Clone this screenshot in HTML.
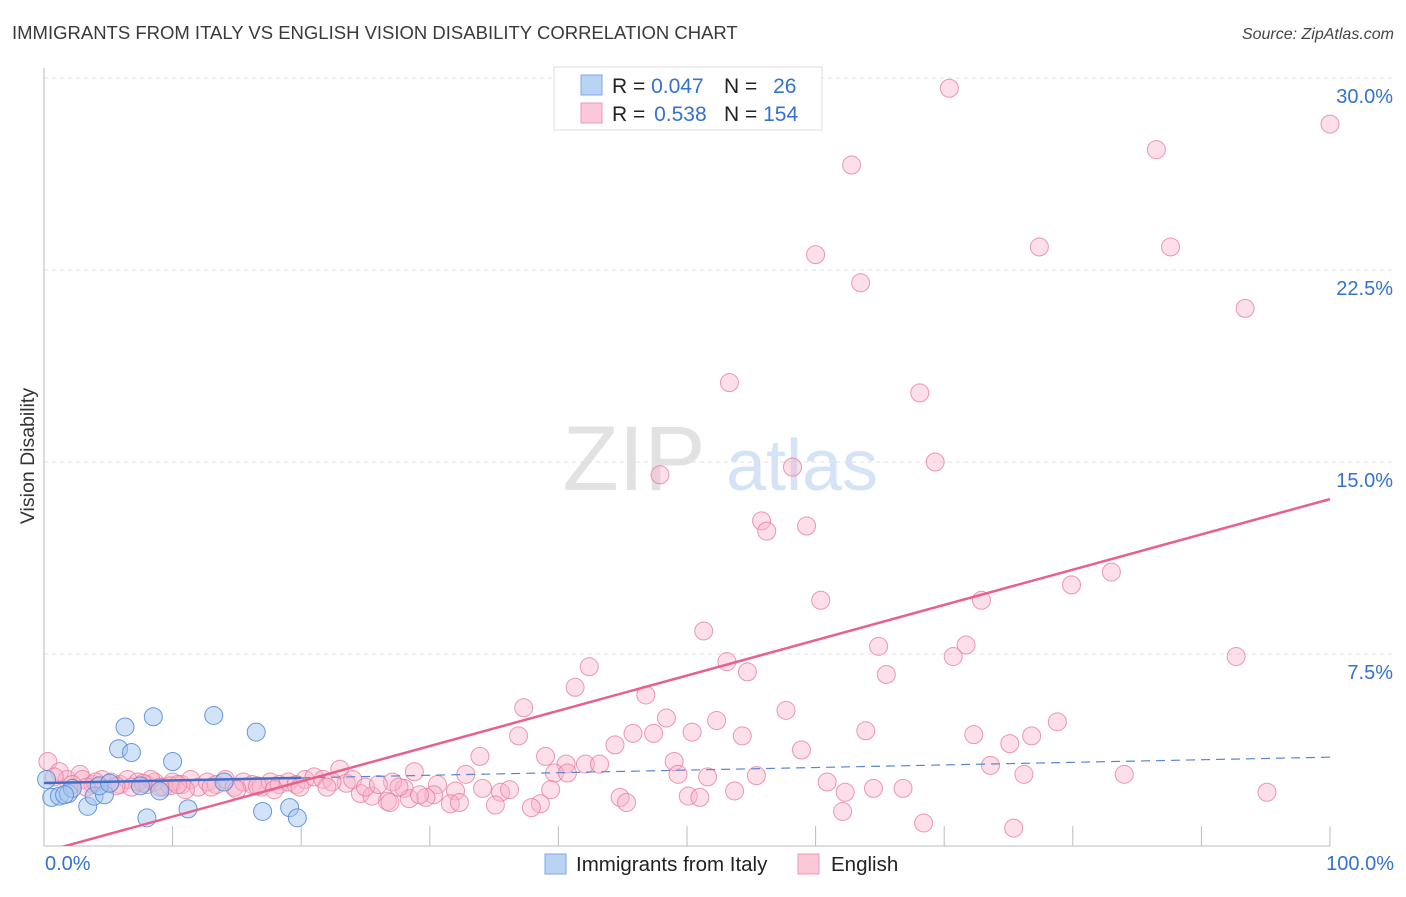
<!DOCTYPE html>
<html><head><meta charset="utf-8"><style>
body{margin:0;background:#fff;font-family:"Liberation Sans",sans-serif;}
svg text{font-family:"Liberation Sans",sans-serif;}
</style></head><body>
<svg id="chart" width="1406" height="892" viewBox="0 0 1406 892" xmlns="http://www.w3.org/2000/svg">
<defs><clipPath id="plotclip"><rect x="44" y="60" width="1300" height="786"/></clipPath></defs>
<text x="12" y="39" font-size="18.5" fill="#3a3a3a">IMMIGRANTS FROM ITALY VS ENGLISH VISION DISABILITY CORRELATION CHART</text>
<text x="1394" y="39" font-size="16" fill="#444" text-anchor="end" font-style="italic">Source: ZipAtlas.com</text>
<text x="34" y="456" font-size="19.5" fill="#333" text-anchor="middle" transform="rotate(-90 34 456)">Vision Disability</text>
<g id="watermark">
<text x="634" y="490" font-size="92" fill="#e2e2e2" text-anchor="middle" font-family="Liberation Serif,serif">ZIP</text>
<text x="802" y="490" font-size="72" fill="#d4e3f5" text-anchor="middle">atlas</text>
</g>
<g id="grid"></g>
<g id="axes"></g>
<g id="pink-pts"></g>
<g id="blue-pts"></g>
<g id="trends" clip-path="url(#plotclip)"></g>
<g id="legend-top">
<rect x="554" y="67" width="268" height="63" fill="#fff" stroke="#ddd"/>
<rect x="581" y="75" width="21" height="20" fill="#b9d3f5" stroke="#7eaae6"/>
<rect x="581" y="103" width="21" height="20" fill="#fbc8d7" stroke="#ee9ab5"/>
<text x="612" y="93" font-size="21" fill="#222">R = <tspan fill="#3571d0">0.047</tspan></text>
<text x="724" y="93" font-size="21" fill="#222">N = <tspan fill="#3571d0" dx="10">26</tspan></text>
<text x="612" y="121" font-size="21" fill="#222">R = <tspan fill="#3571d0" dx="3">0.538</tspan></text>
<text x="724" y="121" font-size="21" fill="#222">N = <tspan fill="#3571d0">154</tspan></text>
</g>
<g id="legend-bottom">
<rect x="545" y="854" width="21" height="20" fill="#b9d3f5" stroke="#7eaae6"/>
<text x="576" y="871" font-size="20.5" fill="#222">Immigrants from Italy</text>
<rect x="798" y="854" width="21" height="20" fill="#fbc8d7" stroke="#ee9ab5"/>
<text x="831" y="871" font-size="20.5" fill="#222">English</text>
</g>
</svg>
<script>
const yTicks=[7.5,15.0,22.5,30.0];
const xTickLabels=["0.0%","100.0%"];
const blueX=[0.6,1.2,1.9,2.2,3.4,3.9,4.7,4.3,5.1,5.8,6.3,6.8,7.5,8.0,8.5,9.0,10.0,11.2,13.2,14.0,16.5,17.0,19.1,19.7,0.2,1.6];
const blueY=[1.9,1.95,2.05,2.25,1.55,1.95,2.0,2.35,2.45,3.8,4.65,3.65,2.35,1.1,5.05,2.15,3.3,1.45,5.1,2.5,4.45,1.35,1.5,1.1,2.6,2.0];
const pinkX=[70.4,100,86.5,62.8,60.0,77.4,87.6,63.5,93.4,53.3,68.1,69.3,58.2,47.9,55.8,56.2,59.3,83.0,79.9,60.4,72.9,51.3,71.7,64.9,70.7,92.7,53.1,42.4,54.7,65.5,41.3,46.8,37.3,57.7,48.4,52.3,78.8,45.8,63.9,47.4,36.9,50.4,54.3,72.3,76.8,75.1,44.4,58.9,33.9,39.0,40.6,42.1,43.2,49.0,73.6,28.8,32.8,39.7,40.7,49.3,51.6,55.4,60.9,76.2,84.0,39.4,35.5,34.1,36.2,32.0,28.0,23.0,23.5,27.1,30.6,64.5,62.3,66.8,53.7,44.8,50.1,51.0,95.1,45.3,35.1,38.6,37.9,26.7,28.4,31.6,30.3,29.7,24.6,25.5,29.2,32.3,26.9,62.1,68.4,75.4,
0.3,1.2,1.8,2.8,3.0,3.8,4.5,5.2,5.9,6.5,7.3,8.0,8.6,9.3,10.0,10.7,11.4,12.0,12.7,13.4,14.1,14.8,15.5,16.2,16.9,17.6,18.3,19.0,19.6,20.3,21.0,21.7,22.4,24.0,25.0,2.2,6.8,9.8,13.0,16.6,19.9,11.0,15.0,17.9,22.0,8.3,4.0,26.0,27.6,0.8,3.3,5.6,7.7,9.0,10.4];
const pinkY=[29.6,28.2,27.2,26.6,23.1,23.4,23.4,22.0,21.0,18.1,17.7,15.0,14.8,14.5,12.7,12.3,12.5,10.7,10.2,9.6,9.6,8.4,7.85,7.8,7.4,7.4,7.2,7.0,6.8,6.7,6.2,5.9,5.4,5.3,5.0,4.9,4.85,4.4,4.5,4.4,4.3,4.45,4.3,4.35,4.3,4.0,3.95,3.75,3.5,3.5,3.2,3.2,3.2,3.3,3.15,2.9,2.8,2.85,2.85,2.8,2.7,2.75,2.5,2.8,2.8,2.2,2.1,2.25,2.2,2.15,2.25,3.0,2.45,2.5,2.4,2.25,2.1,2.25,2.15,1.9,1.95,1.9,2.1,1.7,1.6,1.65,1.5,1.75,1.85,1.65,2.0,1.9,2.05,1.95,2.0,1.7,1.7,1.35,0.9,0.7,
3.3,2.9,2.6,2.8,2.6,2.4,2.6,2.5,2.4,2.6,2.5,2.4,2.5,2.3,2.5,2.4,2.6,2.3,2.5,2.4,2.6,2.3,2.5,2.4,2.3,2.5,2.4,2.5,2.4,2.6,2.7,2.6,2.5,2.6,2.3,2.4,2.3,2.35,2.3,2.35,2.3,2.2,2.2,2.2,2.3,2.6,2.5,2.4,2.3,2.7,2.3,2.35,2.45,2.3,2.4];
const pinkTrend=[-0.23,13.55];
const blueTrend=[2.46,3.47];
const NS="http://www.w3.org/2000/svg";
const X0=44,X1=1330,Y0=846,YPER=25.6;
function sx(v){return X0+(X1-X0)*v/100;}
function sy(v){return Y0-v*YPER;}
function mk(tag,attrs,parent){const e=document.createElementNS(NS,tag);for(const k in attrs)e.setAttribute(k,attrs[k]);parent.appendChild(e);return e;}
const grid=document.getElementById('grid');
yTicks.forEach(t=>{
 const l=mk('line',{x1:X0,x2:1394,y1:sy(t),y2:sy(t),stroke:'#e0e0e0','stroke-dasharray':'4,4'},grid);
 
 
 const tx=mk('text',{x:1393,y:sy(t)+25,'font-size':20,fill:'#3571d0','text-anchor':'end'},grid);
 tx.textContent=t.toFixed(1)+'%';
 
 
});
const axes=document.getElementById('axes');
const ya=mk('line',{x1:X0,x2:X0,y1:68,y2:Y0,stroke:'#bbb'},axes);


const xa=mk('line',{x1:X0,x2:X1,y1:Y0,y2:Y0,stroke:'#bbb'},axes);


for(let i=1;i<=10;i++){
 const tk=mk('line',{x1:sx(i*10),x2:sx(i*10),y1:826,y2:Y0,stroke:'#bbb'},axes);
 
 
}
const xl0=mk('text',{x:45,y:870,'font-size':20,fill:'#3571d0'},axes);
xl0.textContent=xTickLabels[0];


const xl1=mk('text',{x:1394,y:870,'font-size':20,fill:'#3571d0','text-anchor':'end'},axes);
xl1.textContent=xTickLabels[1];


const pg=document.getElementById('pink-pts');
pinkX.forEach((v,i)=>{
 const c=mk('circle',{cx:sx(v),cy:sy(pinkY[i]),r:9,fill:'rgba(248,178,200,0.42)',stroke:'rgba(230,120,155,0.75)','stroke-width':1},pg);
 
 
});
const bg=document.getElementById('blue-pts');
blueX.forEach((v,i)=>{
 const c=mk('circle',{cx:sx(v),cy:sy(blueY[i]),r:9,fill:'rgba(165,198,240,0.5)',stroke:'rgba(80,135,215,0.85)','stroke-width':1},bg);
 
 
});
const tg=document.getElementById('trends');
const bm=blueTrend[0]+(blueTrend[1]-blueTrend[0])*0.2;
const b1=mk('line',{x1:sx(0),y1:sy(blueTrend[0]),x2:sx(20),y2:sy(bm),stroke:'#3f6fc9','stroke-width':2.5},tg);


const b2=mk('line',{x1:sx(20),y1:sy(bm),x2:sx(100),y2:sy(blueTrend[1]),stroke:'#5a86d0','stroke-width':1.2,'stroke-dasharray':'9,6'},tg);


const p1=mk('line',{x1:sx(0),y1:sy(pinkTrend[0]),x2:sx(100),y2:sy(pinkTrend[1]),stroke:'#e8608e','stroke-width':2.5},tg);


</script>
</body></html>
